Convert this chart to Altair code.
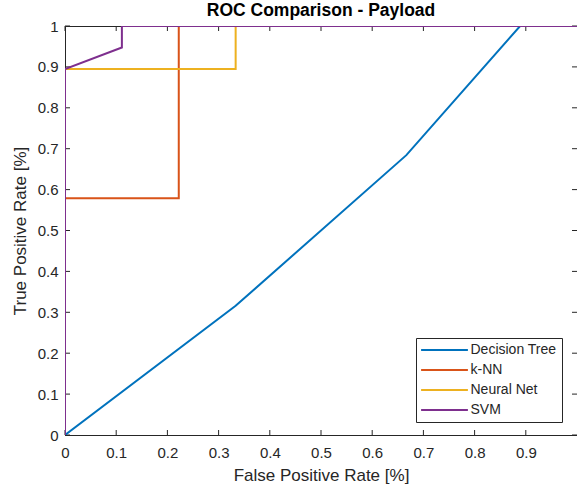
import altair as alt
import pandas as pd

names = ["Decision Tree", "k-NN", "Neural Net", "SVM"]
colors = ["#0072BD", "#D95319", "#EDB120", "#7E2F8E"]

dt_fpr = [0.0, 0.3333, 0.6667, 0.8889, 1.0]
dt_tpr = [0.0, 0.3158, 0.6842, 1.0, 1.0]

knn_fpr = [0.0, 0.0, 0.2222, 0.2222, 1.0]
knn_tpr = [0.0, 0.5789, 0.5789, 1.0, 1.0]

nn_fpr = [0.0, 0.0, 0.3333, 0.3333, 1.0]
nn_tpr = [0.0, 0.8947, 0.8947, 1.0, 1.0]

svm_fpr = [0.0, 0.0, 0.1111, 0.1111, 1.0]
svm_tpr = [0.0, 0.8947, 0.9474, 1.0, 1.0]

tick_vals = [0, 0.1, 0.2, 0.3, 0.4, 0.5, 0.6, 0.7, 0.8, 0.9, 1]
x_tick_vals = [0, 0.1, 0.2, 0.3, 0.4, 0.5, 0.6, 0.7, 0.8, 0.9]

series = [(names[0], dt_fpr, dt_tpr), (names[1], knn_fpr, knn_tpr),
          (names[2], nn_fpr, nn_tpr), (names[3], svm_fpr, svm_tpr)]

FONT = "Liberation Sans"
TXT = "#262626"

xs = alt.Scale(domain=[0, 1], nice=False, zero=False)
ys = alt.Scale(domain=[0, 1], nice=False, zero=False)
cscale = alt.Scale(domain=names, range=colors)

layers = []
for k, (nm, fx, fy) in enumerate(series):
    df = pd.DataFrame({"fpr": fx, "tpr": fy, "series": nm, "i": list(range(len(fx)))})
    c = alt.Chart(df).mark_line(strokeWidth=2, clip=True).encode(
        x=alt.X("fpr:Q", scale=xs, axis=alt.Axis(
            values=x_tick_vals, format="~g", title="False Positive Rate [%]",
            tickSize=0, labelPadding=10, titlePadding=7, domainColor=TXT,
            labelFontSize=15, titleFontSize=17, labelColor=TXT, titleColor=TXT,
            grid=False, labelFlush=False)),
        y=alt.Y("tpr:Q", scale=ys, axis=alt.Axis(
            values=tick_vals, format="~g", title="True Positive Rate [%]",
            tickSize=0, labelPadding=7, titlePadding=8, domainColor=TXT,
            labelFontSize=15, titleFontSize=17, labelColor=TXT, titleColor=TXT,
            grid=False, labelFlush=False)),
        color=alt.Color("series:N", scale=cscale, title=None, legend=alt.Legend(
            orient="none", legendX=351, legendY=312, symbolType="M-7.8,0H7.8",
            symbolSize=36, symbolStrokeWidth=2, symbolOffset=16.5,
            labelFontSize=14, labelColor=TXT, strokeColor=TXT, fillColor="white",
            padding=5, rowPadding=6, labelOffset=19, cornerRadius=0)),
        order="i:Q",
    )
    layers.append(c)

xt = pd.DataFrame({"v": x_tick_vals})
yt = pd.DataFrame({"v": tick_vals})
tick_bottom = alt.Chart(xt).mark_rule(color=TXT, strokeWidth=1).encode(
    x=alt.X("v:Q", scale=xs), y=alt.value(409), y2=alt.value(404))
tick_top = alt.Chart(xt).mark_rule(color=TXT, strokeWidth=1).encode(
    x=alt.X("v:Q", scale=xs), y=alt.value(0), y2=alt.value(5))
tick_left = alt.Chart(yt).mark_rule(color=TXT, strokeWidth=1).encode(
    y=alt.Y("v:Q", scale=ys), x=alt.value(0), x2=alt.value(5))
tick_right = alt.Chart(yt).mark_rule(color=TXT, strokeWidth=1).encode(
    y=alt.Y("v:Q", scale=ys), x=alt.value(512), x2=alt.value(507))

chart = alt.layer(tick_bottom, tick_top, tick_left, tick_right, *layers).properties(
    width=512, height=409,
    title=alt.Title("ROC Comparison - Payload", fontSize=17.5, fontWeight="bold",
                    color="#000000", anchor="middle", offset=0, font=FONT),
    padding={"left": 65, "top": 26, "right": 0, "bottom": 54},
    autosize=alt.AutoSizeParams(type="none"),
    background="white",
).configure(font=FONT).configure_view(stroke=TXT, strokeWidth=1).configure_axis(
    labelFont=FONT, titleFont=FONT, titleFontWeight="normal").configure_legend(
    labelFont=FONT)

chart.save("out.html", embed_options={"renderer": "svg", "actions": False})
